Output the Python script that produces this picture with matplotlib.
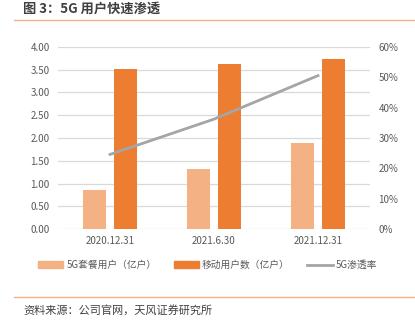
import numpy as np
import matplotlib.pyplot as plt
from matplotlib.lines import Line2D

plt.rcParams['font.family'] = ['Noto Sans CJK SC', 'DejaVu Sans']

# data
dates = ['2020.12.31', '2021.6.30', '2021.12.31']
pkg_users = [0.87, 1.31, 1.88]      # 5G套餐用户（亿户）
mobile_users = [3.51, 3.62, 3.72]   # 移动用户数（亿户）
penetration = [24.6, 36.2, 50.5]    # 5G渗透率 %

light = '#F4B183'
dark = '#ED7D31'
grey_line = '#A5A5A5'
txt = '#595959'

fig = plt.figure(figsize=(4.15, 3.27), dpi=100)
ax = fig.add_axes([58 / 415, 1 - 229.3 / 327, (370 - 58) / 415, (229.3 - 46.7) / 327])

x = np.arange(len(dates))
w = 0.22
ax.bar(x - 0.145, pkg_users, w, color=light, zorder=2)
ax.bar(x + 0.145, mobile_users, w, color=dark, zorder=2)
ax.set_ylim(0, 4)
ax.set_xlim(-0.5, 2.5)
ax.set_yticks(np.arange(0, 4.01, 0.5))
ax.set_yticklabels([f'{v:.2f}' for v in np.arange(0, 4.01, 0.5)])
ax.set_xticks(x)
ax.set_xticklabels(dates)
ax.grid(axis='y', color='#D9D9D9', lw=0.9, zorder=0)
for s in ax.spines.values():
    s.set_visible(False)
ax.tick_params(length=0, labelsize=7, colors=txt, pad=6)
ax.tick_params(axis='x', pad=5)

ax2 = ax.twinx()
ax2.plot(x, penetration, color=grey_line, lw=2, zorder=3)
ax2.set_ylim(0, 60)
ax2.set_yticks(np.arange(0, 61, 10))
ax2.set_yticklabels([f'{v}%' for v in range(0, 61, 10)])
for s in ax2.spines.values():
    s.set_visible(False)
ax2.tick_params(length=0, labelsize=7, colors=txt, pad=6)

# legend
handles = [plt.Rectangle((0, 0), 1, 1, color=light),
           plt.Rectangle((0, 0), 1, 1, color=dark),
           Line2D([0], [0], color=grey_line, lw=2)]
labels = ['5G套餐用户（亿户）', '移动用户数（亿户）', '5G渗透率']
fig.legend(handles, labels, loc='center', bbox_to_anchor=(0.5, 1 - 265 / 327),
           ncol=3, frameon=False, fontsize=7, handlelength=2.6, handleheight=0.6,
           columnspacing=1.8, handletextpad=0.3, labelcolor=txt)

# title, lines and source
fig.text(23 / 415, 1 - 9 / 327, '图 3：5G 用户快速渗透', fontsize=9.5, fontweight='bold',
         color='#404040', va='center', ha='left')
fig.add_artist(Line2D([14 / 415, 1], [1 - 20 / 327] * 2, color='#F4B183', lw=1))
fig.add_artist(Line2D([14 / 415, 1], [1 - 297 / 327] * 2, color='#F4B183', lw=1))
fig.text(23 / 415, 1 - 310 / 327, '资料来源：公司官网，天风证券研究所', fontsize=8,
         color='#404040', va='center', ha='left')

fig.savefig('out.png', dpi=100)
